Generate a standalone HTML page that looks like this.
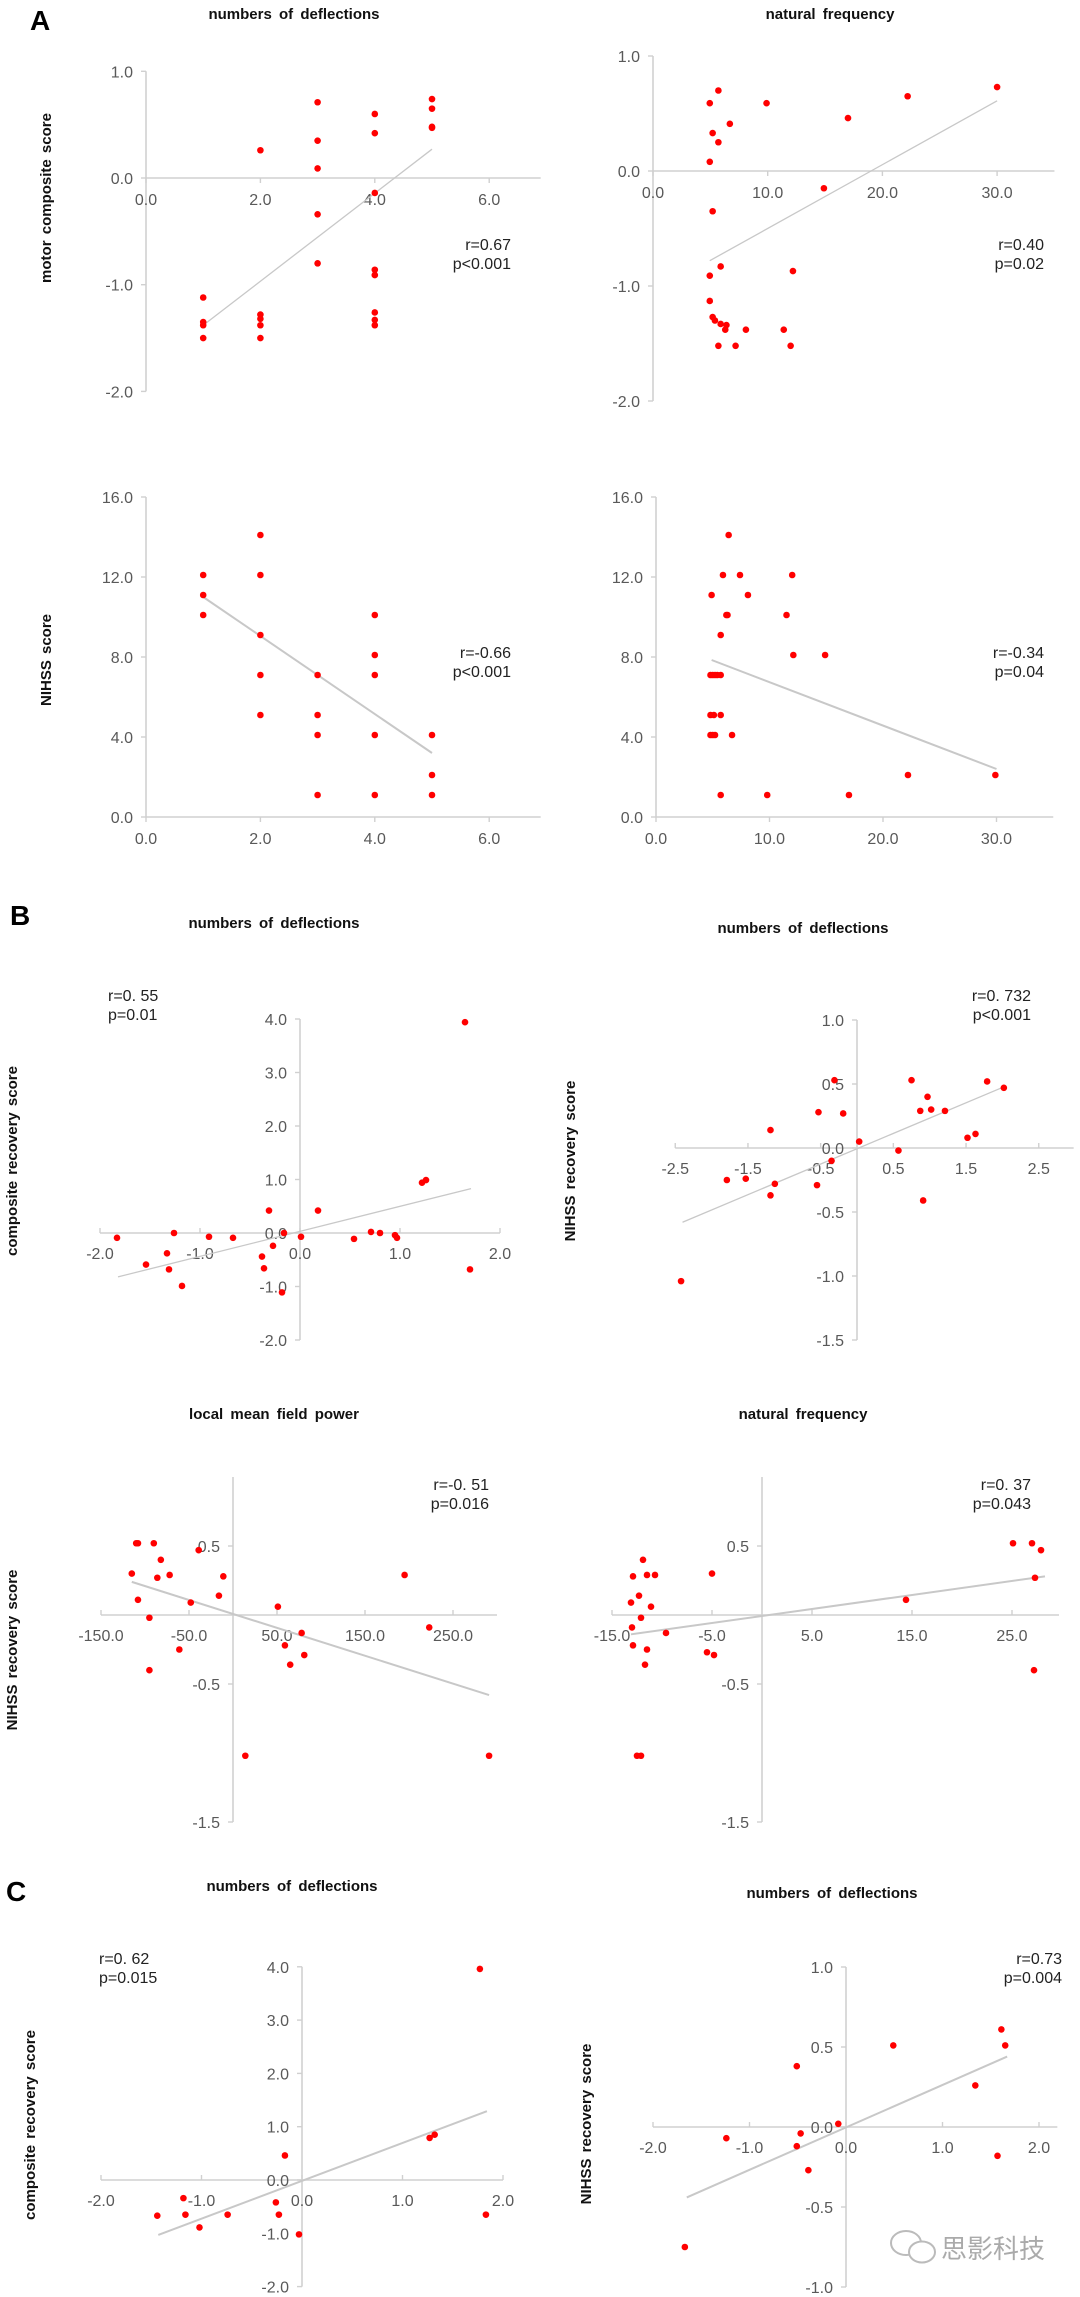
<!DOCTYPE html>
<html><head><meta charset="utf-8"><title>Correlation scatter plots</title>
<style>
html,body{margin:0;padding:0;background:#fff;}
svg{display:block;}
text{font-family:"Liberation Sans",Arial,sans-serif;}
.tick{fill:#595959;font-size:16px;}
.title{fill:#111;font-size:15px;font-weight:bold;word-spacing:3px;}
.ytitle{fill:#111;font-size:15px;font-weight:bold;word-spacing:2px;}
.stat{fill:#222;font-size:16px;}
.panel-label{fill:#000;font-size:28px;font-weight:bold;}
</style></head>
<body>
<svg id="fig" width="1080" height="2297" viewBox="0 0 1080 2297" xmlns="http://www.w3.org/2000/svg">
<rect width="1080" height="2297" fill="#fff"/>
<text class="panel-label" x="30" y="30">A</text>
<text class="panel-label" x="10" y="925">B</text>
<text class="panel-label" x="6" y="1901">C</text>
<g>
<ellipse cx="906" cy="2243" rx="15" ry="12" fill="none" stroke="#bbb" stroke-width="2"/>
<ellipse cx="922" cy="2252" rx="13" ry="10.5" fill="#fff" stroke="#bbb" stroke-width="2"/>
<text x="941" y="2258" fill="#aaa" style="font-family:'Liberation Sans','Noto Sans CJK SC',sans-serif;font-size:26px;">思影科技</text>
</g>
</svg>
<script>
// ---------- data ----------
const a1X=[1,1,1,1,2,2,2,2,2,3,3,3,3,3,4,4,4,4,4,4,4,4,5,5,5,5];
const a1Y=[-1.12,-1.35,-1.38,-1.5,0.26,-1.28,-1.32,-1.38,-1.5,0.71,0.35,0.09,-0.34,-0.8,0.6,0.42,-0.14,-0.86,-0.91,-1.26,-1.33,-1.38,0.74,0.65,0.48,0.47];
const a1Trend=[1,-1.38,5,0.27];

const a2X=[4.95,5.7,9.9,6.7,5.2,5.7,4.95,22.2,17.0,30.0,14.9,5.2,5.9,4.95,12.2,4.95,5.2,5.4,5.9,6.4,6.3,8.1,11.4,5.7,7.2,12.0];
const a2Y=[0.59,0.70,0.59,0.41,0.33,0.25,0.08,0.65,0.46,0.73,-0.15,-0.35,-0.83,-0.91,-0.87,-1.13,-1.27,-1.30,-1.33,-1.34,-1.38,-1.38,-1.38,-1.52,-1.52,-1.52];
const a2Trend=[4.95,-0.78,30,0.61];

const a3X=[1,1,1,2,2,2,2,2,3,3,3,3,4,4,4,4,4,5,5,5];
const a3Y=[12.1,11.1,10.1,14.1,12.1,9.1,7.1,5.1,7.1,5.1,4.1,1.1,10.1,8.1,7.1,4.1,1.1,4.1,2.1,1.1];
const a3Trend=[1,11.0,5,3.2];

const a4X=[6.4,5.9,7.4,12.0,4.9,8.1,6.2,6.3,11.5,5.7,12.1,14.9,4.8,5.0,5.2,5.4,5.7,4.8,5.1,5.7,4.8,5.0,5.2,6.7,22.2,29.9,5.7,9.8,17.0];
const a4Y=[14.1,12.1,12.1,12.1,11.1,11.1,10.1,10.1,10.1,9.1,8.1,8.1,7.1,7.1,7.1,7.1,7.1,5.1,5.1,5.1,4.1,4.1,4.1,4.1,2.1,2.1,1.1,1.1,1.1];
const a4Trend=[4.9,7.85,30,2.4];

const b1X=[-1.83,-1.54,-1.33,-1.31,-1.26,-1.18,-0.91,-0.67,-0.31,-0.38,-0.36,-0.27,-0.18,-0.16,0.01,0.18,0.54,0.71,0.80,0.95,0.97,1.22,1.26,1.65,1.70];
const b1Y=[-0.09,-0.59,-0.38,-0.68,0.0,-0.99,-0.07,-0.09,0.42,-0.44,-0.66,-0.24,-1.11,0.0,-0.07,0.42,-0.11,0.02,0.0,-0.04,-0.09,0.94,0.99,3.94,-0.68];
const b1Trend=[-1.82,-0.82,1.71,0.83];

const b2X=[-2.42,-1.79,-1.53,-1.19,-1.19,-1.13,-0.55,-0.53,-0.35,-0.31,-0.19,0.03,0.57,0.75,0.87,0.91,0.97,1.02,1.21,1.52,1.63,1.79,2.02];
const b2Y=[-1.04,-0.25,-0.24,0.14,-0.37,-0.28,-0.29,0.28,-0.10,0.53,0.27,0.05,-0.02,0.53,0.29,-0.41,0.40,0.30,0.29,0.08,0.11,0.52,0.47];
const b2Trend=[-2.40,-0.58,2.03,0.48];

const b3X=[-115,-110,-108,-108,-95,-95,-90,-86,-82,-72,-61,-48,-39,-16,-11,14,51,59,65,78,81,195,223,291];
const b3Y=[0.30,0.52,0.52,0.11,-0.02,-0.40,0.52,0.27,0.40,0.29,-0.25,0.09,0.47,0.14,0.28,-1.02,0.06,-0.22,-0.36,-0.13,-0.29,0.29,-0.09,-1.02];
const b3Trend=[-115,0.24,291,-0.58];

const b4X=[-13.1,-13.0,-12.9,-12.9,-12.3,-12.5,-12.1,-12.1,-11.9,-11.7,-11.5,-11.5,-11.1,-10.7,-9.6,-5.5,-5.0,-4.8,14.4,25.1,27.0,27.9,27.3,27.2];
const b4Y=[0.09,-0.09,0.28,-0.22,0.14,-1.02,-1.02,-0.02,0.40,-0.36,0.29,-0.25,0.06,0.29,-0.13,-0.27,0.30,-0.29,0.11,0.52,0.52,0.47,0.27,-0.40];
const b4Trend=[-13.1,-0.14,28.3,0.28];

const c1X=[-1.44,-1.18,-1.16,-1.02,-0.74,-0.26,-0.23,-0.17,-0.03,1.27,1.32,1.77,1.83];
const c1Y=[-0.67,-0.34,-0.65,-0.89,-0.65,-0.42,-0.65,0.46,-1.02,0.79,0.85,3.96,-0.65];
const c1Trend=[-1.43,-1.03,1.84,1.29];

const c2X=[-1.67,-1.24,-0.51,-0.51,-0.47,-0.39,-0.08,0.49,1.34,1.57,1.61,1.65];
const c2Y=[-0.75,-0.07,0.38,-0.12,-0.04,-0.27,0.02,0.51,0.26,-0.18,0.61,0.51];
const c2Trend=[-1.65,-0.44,1.67,0.44];

const ticksA1X=["0.0","2.0","4.0","6.0"], ticksA1Y=["-2.0","-1.0","0.0","1.0"];
const ticksA2X=["0.0","10.0","20.0","30.0"];
const ticksA3Y=["0.0","4.0","8.0","12.0","16.0"];
const ticksB1X=["-2.0","-1.0","0.0","1.0","2.0"], ticksB1Y=["-2.0","-1.0","0.0","1.0","2.0","3.0","4.0"];
const ticksB2X=["-2.5","-1.5","-0.5","0.5","1.5","2.5"], ticksB2Y=["-1.5","-1.0","-0.5","0.0","0.5","1.0"];
const ticksB3X=["-150.0","-50.0","50.0","150.0","250.0"], ticksB3Y=["-1.5","-0.5","0.5"];
const ticksB4X=["-15.0","-5.0","5.0","15.0","25.0"];
const ticksC2Y=["-1.0","-0.5","0.0","0.5","1.0"];

// ---------- drawing ----------
const NS="http://www.w3.org/2000/svg";
const svg=document.getElementById('fig');
function mk(tag,attrs,parent){const e=document.createElementNS(NS,tag);for(const k in attrs)e.setAttribute(k,attrs[k]);parent.appendChild(e);return e;}

function panel(id,L,xs,ys,trend,xt,yt,title,ytitle,stats){
  const g=mk('g',{},svg);
  
  
  const sx=v=>L.x0+v*L.xu, sy=v=>L.y0-v*L.yu;
  const ax='#d0d0d0';
  const xaxY=sy(L.xAxisAt), yaxX=sx(0);
  const xl=mk('line',{x1:sx(L.xmin),x2:sx(L.xmax),y1:xaxY,y2:xaxY,stroke:ax,'stroke-width':1.6},g);
  
  
  const yl=mk('line',{x1:yaxX,x2:yaxX,y1:sy(L.ymin),y2:sy(L.ymax),stroke:ax,'stroke-width':1.6},g);
  
  
  xt.forEach(s=>{const v=parseFloat(s);const px=sx(v);
    mk('line',{x1:px,x2:px,y1:xaxY,y2:xaxY+L.td,stroke:ax,'stroke-width':1.4},g);
    const t=mk('text',{x:px,y:xaxY+L.xly,'text-anchor':'middle','class':'tick'},g);t.textContent=s;
    
    });
  yt.forEach(s=>{const v=parseFloat(s);const py=sy(v);
    mk('line',{x1:yaxX-5,x2:yaxX,y1:py,y2:py,stroke:ax,'stroke-width':1.4},g);
    const t=mk('text',{x:yaxX-13,y:py+6,'text-anchor':'end','class':'tick'},g);t.textContent=s;
    
    });
  const tl=mk('line',{x1:sx(trend[0]),y1:sy(trend[1]),x2:sx(trend[2]),y2:sy(trend[3]),stroke:'#c8c8c8','stroke-width':L.tw||1.6},g);
  
  
  for(let i=0;i<xs.length;i++){
    const c=mk('circle',{cx:sx(xs[i]),cy:sy(ys[i]),r:3.3,fill:'#ff0000'},g);
    
    
  }
  const tt=mk('text',{x:title[0],y:title[1],'text-anchor':'middle','class':'title'},g);tt.textContent=title[2];
  
  
  const yy=mk('text',{x:0,y:0,'text-anchor':'middle','class':'ytitle',transform:`translate(${ytitle[0]},${ytitle[1]}) rotate(-90)`},g);yy.textContent=ytitle[2];
  
  
  const s1=mk('text',{x:stats[0],y:stats[1],'text-anchor':stats[4],'class':'stat'},g);s1.textContent=stats[2];
  
  
  const s2=mk('text',{x:stats[0],y:stats[1]+19,'text-anchor':stats[4],'class':'stat'},g);s2.textContent=stats[3];
  
  
}

panel('chart-a1',{x0:146,xu:57.2,y0:178,yu:106.7,xmin:0,xmax:6.9,ymin:-2,ymax:1,xAxisAt:0,td:5,xly:27,tw:1.3},
  a1X,a1Y,a1Trend,ticksA1X,ticksA1Y,[294,19,'numbers of deflections'],[51,198,'motor composite score'],[511,250,'r=0.67','p<0.001','end']);
panel('chart-a2',{x0:653,xu:11.47,y0:171,yu:115,xmin:0,xmax:35,ymin:-2,ymax:1,xAxisAt:0,td:5,xly:27,tw:1.3},
  a2X,a2Y,a2Trend,ticksA2X,ticksA1Y,[830,19,'natural frequency'],[-100,0,''],[1044,250,'r=0.40','p=0.02','end']);
panel('chart-a3',{x0:146,xu:57.2,y0:817,yu:20.0,xmin:0,xmax:6.9,ymin:0,ymax:16,xAxisAt:0,td:5,xly:27,tw:2},
  a3X,a3Y,a3Trend,ticksA1X,ticksA3Y,[-100,0,''],[51,660,'NIHSS score'],[511,658,'r=-0.66','p<0.001','end']);
panel('chart-a4',{x0:656,xu:11.35,y0:817,yu:20.0,xmin:0,xmax:35,ymin:0,ymax:16,xAxisAt:0,td:5,xly:27,tw:2},
  a4X,a4Y,a4Trend,ticksA2X,ticksA3Y,[-100,0,''],[-100,0,''],[1044,658,'r=-0.34','p=0.04','end']);

panel('chart-b1',{x0:300,xu:100,y0:1233,yu:53.5,xmin:-2,xmax:2,ymin:-2,ymax:4,xAxisAt:0,td:-5,xly:26,tw:1.3},
  b1X,b1Y,b1Trend,ticksB1X,ticksB1Y,[274,928,'numbers of deflections'],[17,1161,'composite recovery score'],[108,1001,'r=0. 55','p=0.01','start']);
panel('chart-b2',{x0:857,xu:72.7,y0:1148,yu:128,xmin:-2.5,xmax:2.98,ymin:-1.5,ymax:1,xAxisAt:0,td:-5,xly:26,tw:1.3},
  b2X,b2Y,b2Trend,ticksB2X,ticksB2Y,[803,933,'numbers of deflections'],[575,1161,'NIHSS recovery score'],[1031,1001,'r=0. 732','p<0.001','end']);
panel('chart-b3',{x0:233,xu:0.88,y0:1615,yu:138,xmin:-150,xmax:300,ymin:-1.5,ymax:1,xAxisAt:0,td:-5,xly:26,tw:2},
  b3X,b3Y,b3Trend,ticksB3X,ticksB3Y,[274,1419,'local mean field power'],[17,1650,'NIHSS recovery score'],[489,1490,'r=-0. 51','p=0.016','end']);
panel('chart-b4',{x0:762,xu:10,y0:1615,yu:138,xmin:-15,xmax:29.7,ymin:-1.5,ymax:1,xAxisAt:0,td:-5,xly:26,tw:2},
  b4X,b4Y,b4Trend,ticksB4X,ticksB3Y,[803,1419,'natural frequency'],[-100,0,''],[1031,1490,'r=0. 37','p=0.043','end']);

panel('chart-c1',{x0:302,xu:100.5,y0:2180,yu:53.3,xmin:-2,xmax:2,ymin:-2,ymax:4,xAxisAt:0,td:-5,xly:26,tw:2},
  c1X,c1Y,c1Trend,ticksB1X,ticksB1Y,[292,1891,'numbers of deflections'],[35,2125,'composite recovery score'],[99,1964,'r=0. 62','p=0.015','start']);
panel('chart-c2',{x0:846,xu:96.5,y0:2127,yu:160,xmin:-2,xmax:2.19,ymin:-1,ymax:1,xAxisAt:0,td:-5,xly:26,tw:2},
  c2X,c2Y,c2Trend,ticksB1X,ticksC2Y,[832,1898,'numbers of deflections'],[591,2124,'NIHSS recovery score'],[1062,1964,'r=0.73','p=0.004','end']);
</script>
</body></html>
